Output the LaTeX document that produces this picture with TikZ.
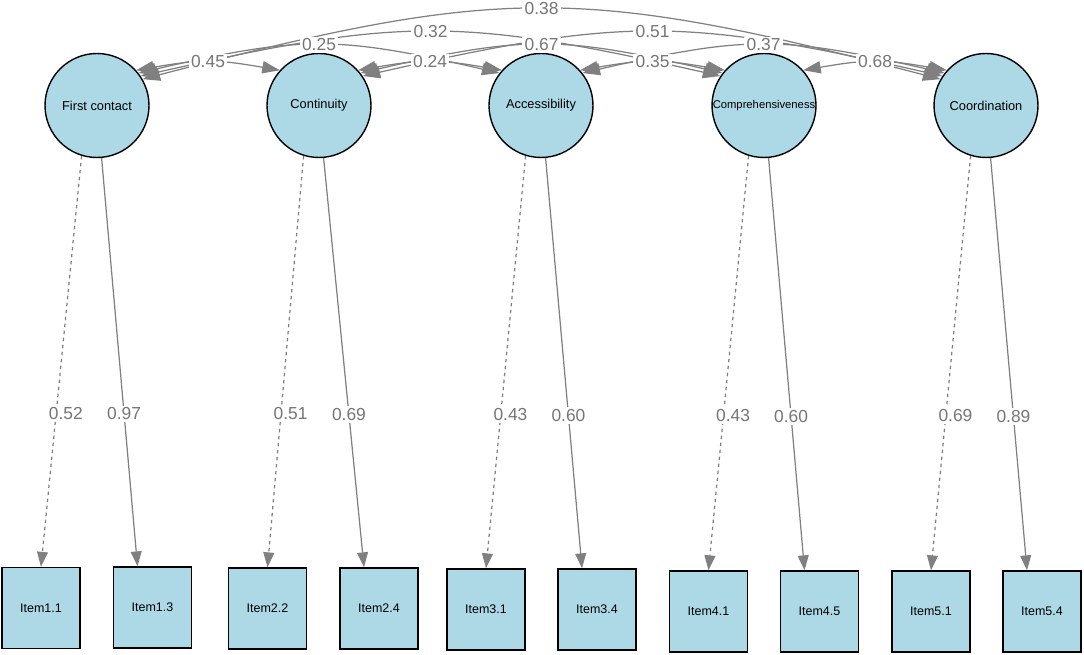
\documentclass[tikz,border=0pt]{standalone}
\usepackage{fontspec}
\setmainfont{Liberation Sans}
\usetikzlibrary{arrows.meta,calc}
\definecolor{lb}{RGB}{173,216,230}
\definecolor{eg}{RGB}{128,128,128}
\definecolor{lg}{RGB}{118,118,118}
\begin{document}
\begin{tikzpicture}[x=0.02cm,y=-0.02cm,
  lat/.style={circle,draw=black,line width=0.8pt,fill=lb,minimum size=2.08cm,inner sep=0pt,font=\fontsize{7.3}{8}\selectfont},
  man/.style={rectangle,draw=black,line width=0.8pt,fill=lb,minimum width=1.56cm,minimum height=1.62cm,inner sep=0pt,font=\fontsize{7.1}{8}\selectfont},
  lab/.style={fill=white,text=lg,inner sep=1.2pt,font=\fontsize{9.9}{11}\selectfont},
  load/.style={draw=eg,line width=0.7pt,-{Triangle[length=8.5pt,width=6.2pt]}},
  dload/.style={load,dash pattern=on 2pt off 2pt},
  cov/.style={draw=eg,line width=0.7pt,{Triangle[length=10pt,width=7pt]}-{Triangle[length=10pt,width=7pt]}}]

\useasboundingbox (0,0) rectangle (1084,655);

% latent variables
\node[lat] (l1) at (97,105.5) {First contact};
\node[lat] (l2) at (319,105.5) {Continuity};
\node[lat] (l3) at (541,105.5) {Accessibility};
\node[lat,font=\fontsize{6.4}{7}\selectfont] (l4) at (764,105.5) {\makebox[0pt]{Comprehensiveness}};
\node[lat] (l5) at (986,105.5) {Coordination};

% items
\node[man] (m11) at (41,608) {Item1.1};
\node[man] (m13) at (152.5,607.5) {Item1.3};
\node[man] (m22) at (267.5,608.5) {Item2.2};
\node[man] (m24) at (379,608.5) {Item2.4};
\node[man] (m31) at (486,609.5) {Item3.1};
\node[man] (m34) at (597,609.5) {Item3.4};
\node[man] (m41) at (708.5,611.5) {Item4.1};
\node[man] (m45) at (819.5,611.5) {Item4.5};
\node[man] (m51) at (931,611.5) {Item5.1};
\node[man] (m54) at (1042,611.5) {Item5.4};

% loadings
\draw[dload] (l1.-107) -- node[lab,pos=0.627,xshift=5.5pt]{0.52} (m11.north);
\draw[load]  (l1.-85)  -- node[lab,pos=0.627]{0.97} (m13.110);
\draw[dload] (l2.-107) -- node[lab,pos=0.627,xshift=5.5pt]{0.51} (m22.north);
\draw[load]  (l2.-85)  -- node[lab,pos=0.627]{0.69} (m24.110);
\draw[dload] (l3.-107) -- node[lab,pos=0.627,xshift=5.5pt]{0.43} (m31.north);
\draw[load]  (l3.-85)  -- node[lab,pos=0.627]{0.60} (m34.110);
\draw[dload] (l4.-107) -- node[lab,pos=0.627,xshift=5.5pt]{0.43} (m41.north);
\draw[load]  (l4.-85)  -- node[lab,pos=0.627]{0.60} (m45.110);
\draw[dload] (l5.-107) -- node[lab,pos=0.627,xshift=5.5pt]{0.69} (m51.north);
\draw[load]  (l5.-85)  -- node[lab,pos=0.627]{0.89} (m54.110);

% covariances
\draw[cov] (l1.42) .. controls (200.8,59.1) and (215.2,59.1) .. coordinate[pos=0.5] (c12) (l2.138);
\draw[cov] (l2.42) .. controls (422.8,59.1) and (437.2,59.1) .. coordinate[pos=0.5] (c23) (l3.138);
\draw[cov] (l3.42) .. controls (645.2,59.1) and (659.8,59.1) .. coordinate[pos=0.5] (c34) (l4.138);
\draw[cov] (l4.42) .. controls (867.8,59.1) and (882.2,59.1) .. coordinate[pos=0.5] (c45) (l5.138);
\draw[cov] (l1.38) .. controls (300.9,35.5) and (337.1,35.5) .. coordinate[pos=0.5] (c13) (l3.142);
\draw[cov] (l2.38) .. controls (523.4,35.5) and (559.6,35.5) .. coordinate[pos=0.5] (c24) (l4.142);
\draw[cov] (l3.38) .. controls (745.4,35.5) and (781.6,35.5) .. coordinate[pos=0.5] (c35) (l5.142);
\draw[cov] (l1.34) .. controls (401.5,17.2) and (459.5,17.2) .. coordinate[pos=0.5] (c14) (l4.146);
\draw[cov] (l2.34) .. controls (623.5,17.2) and (681.5,17.2) .. coordinate[pos=0.5] (c25) (l5.146);
\draw[cov] (l1.30) .. controls (501.6,-14.5) and (581.4,-14.5) .. coordinate[pos=0.5] (c15) (l5.150);

\node[lab] at (c12) {0.45};
\node[lab] at (c23) {0.24};
\node[lab] at (c34) {0.35};
\node[lab] at (c45) {0.68};
\node[lab] at (c13) {0.25};
\node[lab] at (c24) {0.67};
\node[lab] at (c35) {0.37};
\node[lab] at (c14) {0.32};
\node[lab] at (c25) {0.51};
\node[lab] at (c15) {0.38};
\end{tikzpicture}
\end{document}
